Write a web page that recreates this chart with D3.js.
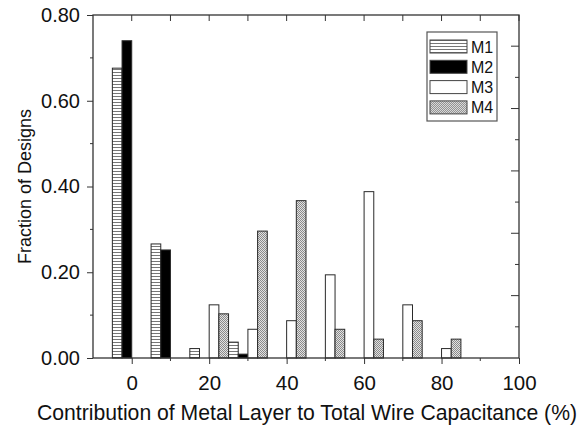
<!DOCTYPE html>
<html>
<head>
<meta charset="utf-8">
<script src="https://cdn.jsdelivr.net/npm/d3@7"></script>
<style>
  body { margin: 0; background: #fff; }
  text { font-family: "Liberation Sans", Arial, sans-serif; fill: #111; }
</style>
</head>
<body>
<div id="chart"></div>
<script>
// bin start (%) for each group of bars
const bins = [0, 10, 20, 30, 40, 50, 60, 70, 80];
const seriesNames = ["M1", "M2", "M3", "M4"];
const m1 = [0.676, 0.266, 0.022, 0.037, 0, 0, 0, 0, 0];
const m2 = [0.740, 0.252, 0, 0.009, 0, 0, 0, 0, 0];
const m3 = [0, 0, 0.124, 0.067, 0.087, 0.194, 0.388, 0.124, 0.022];
const m4 = [0, 0, 0.103, 0.296, 0.367, 0.067, 0.044, 0.087, 0.044];
const xTicks = [0, 20, 40, 60, 80, 100];
const yTicks = [0, 0.2, 0.4, 0.6, 0.8];

const width = 587, height = 428;
const margin = { top: 15, right: 68, bottom: 70, left: 93 };

const svg = d3.select("#chart").append("svg")
    .attr("width", width)
    .attr("height", height);

const x = d3.scaleLinear().domain([-10, 100]).range([margin.left, width - margin.right]);
const y = d3.scaleLinear().domain([0, 0.8]).range([height - margin.bottom, margin.top]);
// right axis in the original is not linked to the left one
const y2 = d3.scaleLinear().domain([0, 1.1]).range([height - margin.bottom, margin.top]);

// patterns
const defs = svg.append("defs");
const stripes = defs.append("pattern")
    .attr("id", "stripes").attr("patternUnits", "userSpaceOnUse")
    .attr("width", 6).attr("height", 3);
stripes.append("rect").attr("width", 6).attr("height", 3).attr("fill", "#fff");
stripes.append("line").attr("x1", 0).attr("x2", 6).attr("y1", 0.5).attr("y2", 0.5)
    .attr("stroke", "#777").attr("stroke-width", 1);

const cross = defs.append("pattern")
    .attr("id", "cross").attr("patternUnits", "userSpaceOnUse")
    .attr("width", 2).attr("height", 2);
cross.append("rect").attr("width", 2).attr("height", 2).attr("fill", "#e2e2e2");
cross.append("rect").attr("width", 1).attr("height", 1).attr("fill", "#8a8a8a");
cross.append("rect").attr("x", 1).attr("y", 1).attr("width", 1).attr("height", 1).attr("fill", "#8a8a8a");

const fills = ["url(#stripes)", "#000", "#fff", "url(#cross)"];
const values = [m1, m2, m3, m4];
const barW = 2.5; // bar width in % units

// bars
const data = [];
seriesNames.forEach((s, si) => {
    bins.forEach((b, bi) => {
        const v = values[si][bi];
        if (v > 0) data.push({ s: si, x0: b - 5 + si * barW, v: v });
    });
});

svg.append("g")
    .selectAll("rect")
    .data(data)
    .join("rect")
    .attr("x", d => x(d.x0))
    .attr("width", d => x(d.x0 + barW) - x(d.x0))
    .attr("y", d => y(d.v))
    .attr("height", d => y(0) - y(d.v))
    .attr("fill", d => fills[d.s])
    .attr("stroke", "#2a2a2a")
    .attr("stroke-width", 1);

// frame
const x0 = margin.left, x1 = width - margin.right;
const yb = height - margin.bottom, yt = margin.top;
svg.append("rect")
    .attr("x", x0).attr("y", yt)
    .attr("width", x1 - x0).attr("height", yb - yt)
    .attr("fill", "none").attr("stroke", "#333").attr("stroke-width", 1.3);

// bottom axis
const xAxis = svg.append("g").attr("transform", `translate(0,${yb})`);
xAxis.call(d3.axisBottom(x).tickValues(xTicks).tickSize(6).tickFormat(d3.format("d")))
    .call(g => g.select(".domain").remove())
    .call(g => g.selectAll("text").attr("font-size", 20.5).attr("dy", "1.1em"));
xAxis.selectAll(".minor")
    .data(d3.range(10, 100, 20))
    .join("line")
    .attr("x1", d => x(d)).attr("x2", d => x(d))
    .attr("y1", 0).attr("y2", 3)
    .attr("stroke", "#333");

// top ticks (inward)
svg.append("g")
    .selectAll("line")
    .data(d3.range(0, 101, 10))
    .join("line")
    .attr("x1", d => x(d)).attr("x2", d => x(d))
    .attr("y1", yt).attr("y2", yt + 6)
    .attr("stroke", "#333");

// left axis
const yAxis = svg.append("g").attr("transform", `translate(${x0},0)`);
yAxis.call(d3.axisLeft(y).tickValues(yTicks).tickSize(6).tickFormat(d3.format(".2f")))
    .call(g => g.select(".domain").remove())
    .call(g => g.selectAll("text").attr("font-size", 20).attr("dx", "-0.2em"));
yAxis.selectAll(".minor")
    .data(d3.range(0.1, 0.8, 0.2))
    .join("line")
    .attr("x1", -3).attr("x2", 0)
    .attr("y1", d => y(d)).attr("y2", d => y(d))
    .attr("stroke", "#333");

// right ticks (inward, own scale)
svg.append("g")
    .selectAll("line")
    .data(d3.range(1, 11))
    .join("line")
    .attr("x1", d => x1 - (d % 2 === 0 ? 8 : 4)).attr("x2", x1)
    .attr("y1", d => y2(d / 10)).attr("y2", d => y2(d / 10))
    .attr("stroke", "#333");

svg.selectAll(".tick line").attr("stroke", "#333");

// axis titles
svg.append("text")
    .attr("x", 307)
    .attr("y", 420)
    .attr("text-anchor", "middle")
    .attr("font-size", 21.2)
    .text("Contribution of Metal Layer to Total Wire Capacitance (%)");

svg.append("text")
    .attr("transform", `translate(31,${(yt + yb) / 2}) rotate(-90)`)
    .attr("text-anchor", "middle")
    .attr("font-size", 18)
    .text("Fraction of Designs");

// legend
const legend = svg.append("g").attr("transform", "translate(427,32)");
legend.append("rect")
    .attr("width", 70).attr("height", 89)
    .attr("fill", "#fff").attr("stroke", "#555").attr("stroke-width", 1.2);
seriesNames.forEach((s, i) => {
    const row = legend.append("g").attr("transform", `translate(3,${8 + i * 20.3})`);
    row.append("rect")
        .attr("width", 37).attr("height", 13)
        .attr("fill", fills[i]).attr("stroke", "#444").attr("stroke-width", 1);
    row.append("text")
        .attr("x", 41).attr("y", 12.5)
        .attr("font-size", 16)
        .text(s);
});
</script>
</body>
</html>
